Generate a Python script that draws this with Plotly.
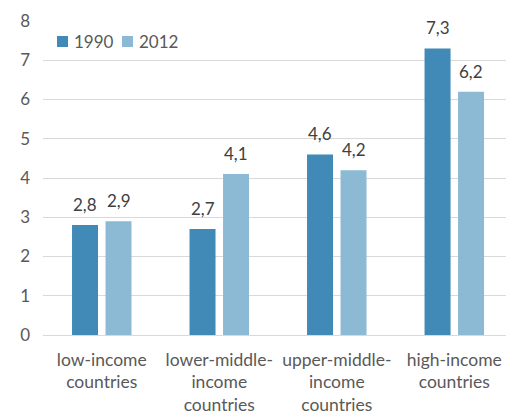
import plotly.graph_objects as go

categories = ["low-income<br>countries", "lower-middle-<br>income<br>countries",
              "upper-middle-<br>income<br>countries", "high-income<br>countries"]
values_1990 = [2.8, 2.7, 4.6, 7.3]
values_2012 = [2.9, 4.1, 4.2, 6.2]
series_names = ["1990", "2012"]
y_ticks = [0, 1, 2, 3, 4, 5, 6, 7, 8]

FONT = "Lato"
TXT = "#595959"
COLORS = ["#4189B6", "#8CBAD5"]
SLOT_PX = 16.75  # half slot offset of grouped bars in pixels

# plot area in pixels (for the hand-drawn legend)
L, R, T, B = 43, 506, 21, 335

def px_x(p):
    return (p - L) / (R - L)

def px_y(p):
    return (B - p) / (B - T)

def lab(v):
    return f"{v:.1f}".replace(".", ",")

x = list(range(len(categories)))
fig = go.Figure()
for name, vals, col in zip(series_names, (values_1990, values_2012), COLORS):
    fig.add_trace(go.Bar(x=x, y=vals, name=name, marker_color=col,
                         marker_line_width=0, showlegend=False))

for series, shift in ((values_1990, -SLOT_PX), (values_2012, SLOT_PX)):
    for xi, v in zip(x, series):
        fig.add_annotation(x=xi, y=v, text=lab(v), showarrow=False,
                           xshift=shift, yshift=8, yanchor="bottom",
                           font=dict(family=FONT, size=17, color="#404040"))

# legend (drawn manually to match compact spacing)
leg_sq_left = [57, 122]
for name, col, sx in zip(series_names, COLORS, leg_sq_left):
    fig.add_shape(type="rect", xref="paper", yref="paper",
                  x0=px_x(sx), x1=px_x(sx + 11), y0=px_y(47), y1=px_y(36),
                  fillcolor=col, line_width=0)
    fig.add_annotation(xref="paper", yref="paper", x=px_x(sx + 15), y=px_y(41.5),
                       text=name, showarrow=False, xanchor="left", yanchor="middle",
                       font=dict(family=FONT, size=17, color=TXT))

fig.update_layout(
    width=506, height=414,
    margin=dict(l=L, r=506 - R, t=T, b=414 - B),
    paper_bgcolor="white", plot_bgcolor="white",
    barmode="group", bargap=0.43, bargroupgap=0.224,
    font=dict(family=FONT, size=17, color=TXT),
    showlegend=False,
    xaxis=dict(range=[-0.5, 3.44], tickvals=x, ticktext=categories,
               showgrid=False, zeroline=False, showline=False, ticks="",
               ticklabelstandoff=12, automargin=False,
               tickfont=dict(family=FONT, size=17.5, color=TXT)),
    yaxis=dict(range=[0, 8], tickvals=y_ticks, showgrid=True, gridcolor="#D9D9D9",
               gridwidth=1, zeroline=True, zerolinecolor="#D9D9D9", zerolinewidth=1,
               showline=False, ticks="", ticklabelstandoff=12, automargin=False,
               tickfont=dict(family=FONT, size=17, color=TXT)),
)

fig.write_html("out.html")
